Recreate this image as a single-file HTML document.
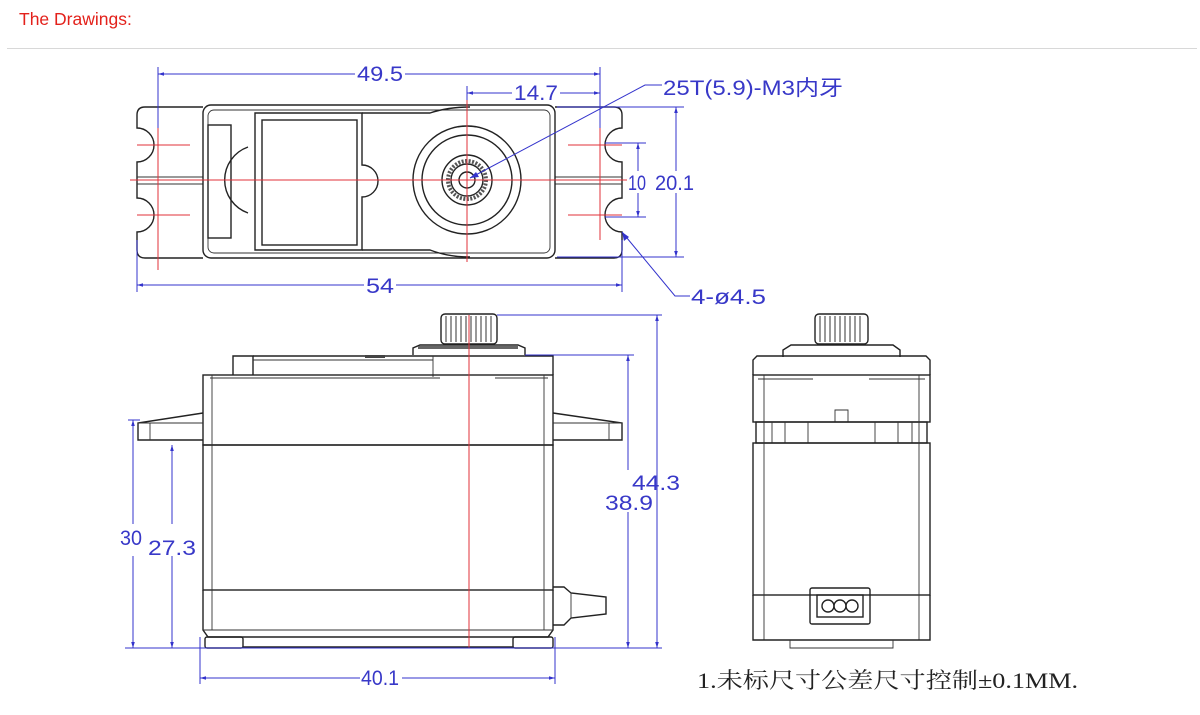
<!DOCTYPE html>
<html><head><meta charset="utf-8"><style>
html,body{margin:0;padding:0;background:#fff;width:1200px;height:715px;overflow:hidden}
.t{position:absolute;left:19px;top:9px;font:17.5px "Liberation Sans",sans-serif;color:#e3211b}
.hr{position:absolute;left:7px;top:48px;width:1190px;height:1px;background:#d8d8d8}
svg{position:absolute;left:0;top:0}
.k{fill:none;stroke:#222;stroke-width:1.4}
.k2{fill:none;stroke:#333;stroke-width:0.9}
.r{stroke:#e0323a;stroke-width:1;fill:none}
.b{stroke:#3333cc;stroke-width:1;fill:none}
.bt{fill:#3838c8;font-family:"Liberation Sans","Noto Sans CJK SC",sans-serif;font-size:21px}
</style></head><body>
<div class="t">The Drawings:</div><div class="hr"></div>
<svg width="1200" height="715" viewBox="0 0 1200 715">
<defs>
<marker id="a" viewBox="0 0 10 10" refX="10" refY="5" markerWidth="9" markerHeight="6" orient="auto-start-reverse"><path d="M0,2 L10,5 L0,8z" fill="#3333cc"/></marker>
</defs>
<!-- TOP VIEW -->
<g>
<path class="k" d="M203,107 H145 Q137,107 137,115 V128 A16,16 0 1 1 137,162 V198 A16,16 0 1 1 137,232 V250 Q137,258 145,258 H203"/>
<path class="k" d="M555,107 H614 Q622,107 622,115 V128 A16,16 0 1 0 622,162 V198 A16,16 0 1 0 622,232 V250 Q622,258 614,258 H555"/>
<line class="k2" x1="137" y1="177" x2="203" y2="177"/><line class="k2" x1="137" y1="184" x2="203" y2="184"/>
<line class="k2" x1="555" y1="177" x2="622" y2="177"/><line class="k2" x1="555" y1="184" x2="622" y2="184"/>
<rect class="k" x="203" y="105" width="352" height="153" rx="8"/>
<rect class="k2" x="208" y="110" width="342" height="143" rx="6"/>
<rect class="k" x="208" y="125" width="23" height="113"/>
<path class="k" d="M248,147 A35,35 0 0 0 248,213"/>
<path class="k" d="M255,113 H362 V165 A16,16 0 0 1 362,197 V250 H255 Z"/>
<rect class="k" x="262" y="120" width="95" height="125"/>
<path class="k" d="M362,113 H430 Q448,107 470,107"/>
<path class="k" d="M362,250 H430 Q448,257 470,257"/>
<circle class="k" cx="467" cy="180" r="54"/>
<circle class="k" cx="467" cy="180" r="45"/>
<circle class="k" cx="467" cy="180" r="25"/>
<circle cx="467" cy="180" r="19" fill="none" stroke="#555" stroke-width="4" stroke-dasharray="2 1.5"/>
<circle class="k" cx="467" cy="180" r="16"/>
<circle class="k" cx="467" cy="180" r="8"/>
<line class="r" x1="130" y1="180" x2="640" y2="180"/>
<line class="r" x1="467" y1="88" x2="467" y2="262"/>
<line class="r" x1="158" y1="125" x2="158" y2="270"/>
<line class="r" x1="600" y1="125" x2="600" y2="240"/>
<line class="r" x1="137" y1="145" x2="190" y2="145"/><line class="r" x1="137" y1="215" x2="190" y2="215"/>
<line class="r" x1="568" y1="145" x2="622" y2="145"/><line class="r" x1="568" y1="215" x2="622" y2="215"/>
<line class="b" x1="158" y1="67" x2="158" y2="128"/><line class="b" x1="600" y1="67" x2="600" y2="128"/>
<line class="b" x1="158" y1="74" x2="600" y2="74" marker-start="url(#a)" marker-end="url(#a)"/>
<rect x="355" y="63" width="50" height="20" fill="#fff"/><text class="bt" x="357" y="81" textLength="46" lengthAdjust="spacingAndGlyphs">49.5</text>
<line class="b" x1="467" y1="86" x2="467" y2="100"/>
<line class="b" x1="467" y1="93" x2="600" y2="93" marker-start="url(#a)" marker-end="url(#a)"/>
<rect x="512" y="82" width="48" height="20" fill="#fff"/><text class="bt" x="514" y="100" textLength="44" lengthAdjust="spacingAndGlyphs">14.7</text>
<polyline class="b" points="470,178 645,85 662,85"/>
<path d="M470,178 l9,-1 l-3,-5z" fill="#3333cc"/>
<text class="bt" x="663" y="95" textLength="180" lengthAdjust="spacingAndGlyphs">25T(5.9)-M3内牙</text>
<line class="b" x1="557" y1="107" x2="684" y2="107"/><line class="b" x1="557" y1="257" x2="684" y2="257"/>
<line class="b" x1="676" y1="107" x2="676" y2="257" marker-start="url(#a)" marker-end="url(#a)"/>
<line class="b" x1="605" y1="143" x2="646" y2="143"/><line class="b" x1="605" y1="217" x2="646" y2="217"/>
<line class="b" x1="638" y1="143" x2="638" y2="217" marker-start="url(#a)" marker-end="url(#a)"/>
<rect x="627" y="171" width="68" height="22" fill="#fff"/>
<text class="bt" x="628" y="190" textLength="18" lengthAdjust="spacingAndGlyphs">10</text><text class="bt" x="655" y="190" textLength="39" lengthAdjust="spacingAndGlyphs">20.1</text>
<line class="b" x1="137" y1="240" x2="137" y2="292"/><line class="b" x1="622" y1="240" x2="622" y2="292"/>
<line class="b" x1="137" y1="285" x2="622" y2="285" marker-start="url(#a)" marker-end="url(#a)"/>
<rect x="364" y="275" width="32" height="20" fill="#fff"/><text class="bt" x="366" y="293" textLength="28" lengthAdjust="spacingAndGlyphs">54</text>
<polyline class="b" points="622,232 675,296 690,296"/>
<path d="M622,232 l2,9 l5,-4z" fill="#3333cc"/>
<text class="bt" x="691" y="304" textLength="75" lengthAdjust="spacingAndGlyphs">4-ø4.5</text>
</g>
<!-- FRONT VIEW -->
<g>
<rect class="k" x="441" y="314" width="56" height="30" rx="4"/>
<g stroke="#333" stroke-width="1">
<line x1="446" y1="316" x2="446" y2="342"/><line x1="451" y1="316" x2="451" y2="342"/><line x1="456" y1="316" x2="456" y2="342"/><line x1="461" y1="316" x2="461" y2="342"/><line x1="466" y1="316" x2="466" y2="342"/><line x1="471" y1="316" x2="471" y2="342"/><line x1="476" y1="316" x2="476" y2="342"/><line x1="481" y1="316" x2="481" y2="342"/><line x1="486" y1="316" x2="486" y2="342"/><line x1="491" y1="316" x2="491" y2="342"/></g>
<path class="k" d="M413,355 V348 L420,345 H518 L525,348 V355"/>
<rect x="418" y="346" width="100" height="3" fill="#666"/>
<path class="k" d="M233,375 V356 H253 V375"/>
<path class="k" d="M253,356 H553 V375"/>
<line class="k2" x1="253" y1="360" x2="433" y2="360"/><path class="k2" d="M433,356 V377"/>
<rect x="365" y="355" width="20" height="3" fill="#444"/>
<rect class="k" x="203" y="375" width="350" height="70"/>
<line class="k2" x1="210" y1="378" x2="440" y2="378"/><line class="k2" x1="495" y1="378" x2="548" y2="378"/>
<rect class="k" x="203" y="445" width="350" height="145"/>
<line class="k2" x1="212" y1="375" x2="212" y2="630"/><line class="k2" x1="544" y1="375" x2="544" y2="630"/>
<path class="k" d="M203,413 L138,423 V440 H203"/><line class="k2" x1="150" y1="423" x2="150" y2="440"/><line class="k2" x1="138" y1="423" x2="203" y2="423"/>
<path class="k" d="M553,413 L622,423 V440 H553"/><line class="k2" x1="609" y1="423" x2="609" y2="440"/><line class="k2" x1="553" y1="423" x2="622" y2="423"/>
<path class="k" d="M203,590 V630 L208,637 H548 L553,630 V590"/>
<line class="k2" x1="203" y1="630" x2="553" y2="630"/>
<rect class="k" x="205" y="637" width="38" height="11" rx="2"/><rect class="k" x="513" y="637" width="40" height="11" rx="2"/>
<line class="k" x1="243" y1="647" x2="513" y2="647"/>
<path class="k" d="M553,587 H564 L571,593 L606,597 V614 L571,618 L564,625 H553"/>
<line class="k2" x1="571" y1="593" x2="571" y2="618"/>
<line class="r" x1="469" y1="315" x2="469" y2="648"/>
<line class="b" x1="125" y1="648" x2="662" y2="648"/>
<line class="b" x1="128" y1="420" x2="140" y2="420"/>
<line class="b" x1="133" y1="420" x2="133" y2="648" marker-start="url(#a)" marker-end="url(#a)"/>
<line class="b" x1="172" y1="445" x2="172" y2="648" marker-start="url(#a)" marker-end="url(#a)"/>
<rect x="118" y="524" width="80" height="32" fill="#fff"/>
<text class="bt" x="120" y="545" textLength="22" lengthAdjust="spacingAndGlyphs">30</text><text class="bt" x="148" y="555" textLength="48" lengthAdjust="spacingAndGlyphs">27.3</text>
<line class="b" x1="497" y1="315" x2="662" y2="315"/>
<line class="b" x1="525" y1="355" x2="634" y2="355"/>
<line class="b" x1="628" y1="355" x2="628" y2="648" marker-start="url(#a)" marker-end="url(#a)"/>
<line class="b" x1="657" y1="315" x2="657" y2="648" marker-start="url(#a)" marker-end="url(#a)"/>
<rect x="604" y="470" width="50" height="42" fill="#fff"/>
<text class="bt" x="632" y="490" textLength="48" lengthAdjust="spacingAndGlyphs">44.3</text><text class="bt" x="605" y="510" textLength="48" lengthAdjust="spacingAndGlyphs">38.9</text>
<line class="b" x1="200" y1="637" x2="200" y2="684"/><line class="b" x1="555" y1="637" x2="555" y2="684"/>
<line class="b" x1="200" y1="678" x2="555" y2="678" marker-start="url(#a)" marker-end="url(#a)"/>
<rect x="360" y="667" width="42" height="20" fill="#fff"/><text class="bt" x="361" y="685" textLength="38" lengthAdjust="spacingAndGlyphs">40.1</text>
</g>
<!-- SIDE VIEW -->
<g>
<rect class="k" x="815" y="314" width="53" height="30" rx="4"/>
<g stroke="#333" stroke-width="1">
<line x1="820" y1="316" x2="820" y2="342"/><line x1="825" y1="316" x2="825" y2="342"/><line x1="830" y1="316" x2="830" y2="342"/><line x1="835" y1="316" x2="835" y2="342"/><line x1="840" y1="316" x2="840" y2="342"/><line x1="845" y1="316" x2="845" y2="342"/><line x1="850" y1="316" x2="850" y2="342"/><line x1="855" y1="316" x2="855" y2="342"/><line x1="860" y1="316" x2="860" y2="342"/></g>
<path class="k" d="M783,357 V350 L791,345 H893 L900,350 V357"/>
<path class="k" d="M753,375 V360 L757,356 H926 L930,360 V375"/>
<rect class="k" x="753" y="375" width="177" height="47"/>
<line class="k2" x1="758" y1="379" x2="813" y2="379"/><line class="k2" x1="869" y1="379" x2="925" y2="379"/>
<path class="k2" d="M835,422 V410 H848 V422"/>
<rect class="k" x="756" y="422" width="171" height="21"/>
<g class="k2"><line x1="772" y1="422" x2="772" y2="443"/><line x1="785" y1="422" x2="785" y2="443"/><line x1="808" y1="422" x2="808" y2="443"/><line x1="875" y1="422" x2="875" y2="443"/><line x1="898" y1="422" x2="898" y2="443"/><line x1="912" y1="422" x2="912" y2="443"/></g>
<rect class="k" x="753" y="443" width="177" height="152"/>
<line class="k2" x1="764" y1="375" x2="764" y2="640"/><line class="k2" x1="919" y1="375" x2="919" y2="640"/>
<path class="k" d="M753,595 V640 H930 V595"/>
<path class="k2" d="M790,640 V648 H893 V640"/>
<rect class="k" x="810" y="588" width="60" height="36" rx="2"/>
<rect class="k" x="817" y="595" width="46" height="22"/>
<circle class="k" cx="828" cy="606" r="6"/><circle class="k" cx="840" cy="606" r="6"/><circle class="k" cx="852" cy="606" r="6"/>
</g>
<text x="697" y="688" textLength="381" lengthAdjust="spacingAndGlyphs" style="font-family:'Liberation Serif','Noto Serif CJK SC',serif;font-size:22px;fill:#222">1.未标尺寸公差尺寸控制±0.1MM.</text>
</svg>
</body></html>
